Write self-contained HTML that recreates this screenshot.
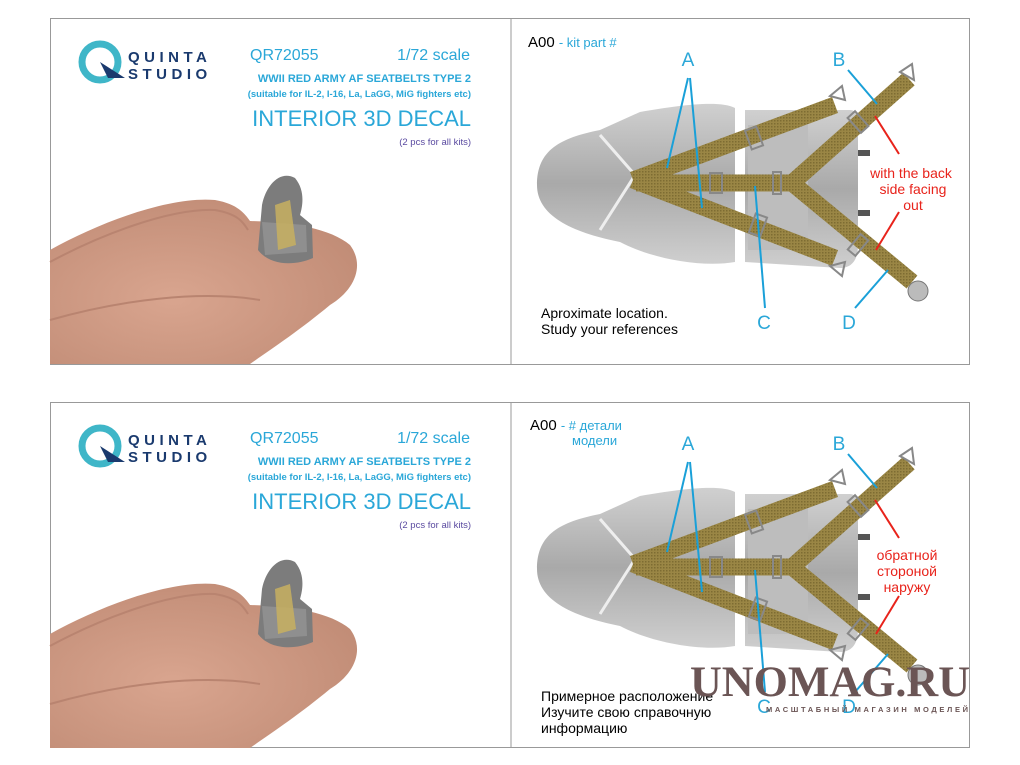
<!DOCTYPE html>
<html><head><meta charset="utf-8"><style>
html,body{margin:0;padding:0;background:#fff;width:1020px;height:765px;overflow:hidden}
svg{display:block}
text{font-family:"Liberation Sans",sans-serif}
</style></head><body>
<svg width="1020" height="765" viewBox="0 0 1020 765" xmlns="http://www.w3.org/2000/svg">
<defs>
<pattern id="wv" width="3" height="3" patternUnits="userSpaceOnUse"><rect width="3" height="3" fill="#9a8645"/><rect width="1.5" height="1.5" fill="#7d6c32"/></pattern>
<radialGradient id="sk" cx="0.4" cy="0.6" r="0.7"><stop offset="0" stop-color="#d9a58f"/><stop offset="1" stop-color="#c08b75"/></radialGradient>
<linearGradient id="st" x1="0" y1="0" x2="0" y2="1"><stop offset="0" stop-color="#d0d0d0"/><stop offset="0.5" stop-color="#a9a9a9"/><stop offset="1" stop-color="#cfcfcf"/></linearGradient>
<g id="hand">
 <path d="M50,250 C100,222 170,196 215,200 C238,204 245,214 250,221 C290,222 330,228 350,245 C365,265 355,290 330,305 C300,330 270,350 250,364 L50,364 Z" fill="url(#sk)"/>
 <path d="M50,262 C100,235 170,208 215,210 C238,214 243,222 248,230" stroke="#b98470" stroke-width="2" fill="none"/>
 <path d="M50,320 C120,300 200,290 260,300" stroke="#b98470" stroke-width="2" fill="none"/>
 <path d="M258,250 L262,205 C266,185 280,170 295,178 C305,190 303,205 300,215 L312,225 L313,258 C295,266 270,266 258,250 Z" fill="#7c7c7c"/>
 <path d="M262,222 L306,225 L307,252 L265,255 Z" fill="#8f8f8f"/>
 <path d="M275,205 L290,200 L296,245 L278,250 Z" fill="#c8b060" opacity="0.85"/>
</g>
<g id="seat">
 <path d="M537,185 C537,150 560,138 600,130 L640,112 C680,105 720,100 735,108 L735,262 C700,268 650,258 620,242 C570,232 537,215 537,185 Z" fill="url(#st)"/>
 <path d="M745,110 L850,110 C858,110 858,120 858,130 L858,245 C858,262 850,268 840,268 L745,262 Z" fill="url(#st)"/>
 <rect x="748" y="125" width="60" height="125" fill="#bdbdbd"/>
 <rect x="858" y="150" width="12" height="6" fill="#555"/><rect x="858" y="210" width="12" height="6" fill="#555"/>
 <path d="M600,135 L635,175 L600,230" stroke="#eee" stroke-width="3" fill="none"/>
 <g stroke="url(#wv)" stroke-width="17" stroke-linecap="butt" fill="none">
  <line x1="633" y1="180" x2="835" y2="105"/>
  <line x1="633" y1="180" x2="835" y2="258"/>
  <line x1="636" y1="183" x2="800" y2="183"/>
  <line x1="792" y1="183" x2="909" y2="79"/>
  <line x1="792" y1="183" x2="912" y2="282"/>
 </g>
 <g stroke="#888" stroke-width="2" fill="none">
  <rect x="710" y="173" width="12" height="20"/><rect x="773" y="172" width="8" height="22"/>
  <rect x="748" y="128" width="12" height="20" transform="rotate(-20 754 138)"/>
  <rect x="752" y="215" width="12" height="20" transform="rotate(20 758 225)"/>
  <rect x="853" y="112" width="10" height="20" transform="rotate(-42 858 122)"/>
  <rect x="853" y="235" width="10" height="20" transform="rotate(40 858 245)"/>
  <path d="M830,96 L842,86 L845,100 Z"/><path d="M830,266 L842,276 L845,262 Z"/><path d="M900,72 L912,64 L914,80 Z"/>
 </g>
 <circle cx="918" cy="291" r="10" fill="#bbb" stroke="#777"/>
</g>
<g id="logo">
 <circle cx="100" cy="62" r="18" fill="none" stroke="#3fb6c8" stroke-width="7"/>
 <path d="M100,62 L125,78 L108,78 Z" fill="#1a3a6e"/>
</g>
<g id="lines">
<g stroke="#1aa0d8" stroke-width="2"><line x1="688" y1="78" x2="667" y2="168"/><line x1="690" y1="78" x2="702" y2="208"/><line x1="848" y1="70" x2="877" y2="104"/><line x1="765" y1="308" x2="755" y2="186"/><line x1="855" y1="308" x2="888" y2="270"/></g>
<g stroke="#e8231b" stroke-width="2"><line x1="875" y1="116" x2="899" y2="154"/><line x1="899" y1="212" x2="876" y2="250"/></g>
</g>
</defs>

<!-- top panel -->
<rect x="50.5" y="18.5" width="919" height="346" fill="#fff" stroke="#999"/>
<use href="#hand"/><use href="#seat"/><use href="#logo"/><use href="#lines"/>
<line x1="511" y1="18" x2="511" y2="364" stroke="#999"/>
<text x="128" y="62" font-size="15" font-weight="bold" fill="#1a3a6e" letter-spacing="4.5">QUINTA</text>
<text x="128" y="79" font-size="15" font-weight="bold" fill="#1a3a6e" letter-spacing="4.5">STUDIO</text>
<text x="250" y="60" font-size="16" fill="#2aa7d8">QR72055</text>
<text x="470" y="60" font-size="16" fill="#2aa7d8" text-anchor="end">1/72 scale</text>
<text x="471" y="82" font-size="11" font-weight="bold" fill="#2aa7d8" text-anchor="end">WWII RED ARMY AF SEATBELTS TYPE 2</text>
<text x="471" y="97" font-size="9.5" font-weight="bold" fill="#2aa7d8" text-anchor="end">(suitable for IL-2, I-16, La, LaGG, MiG fighters etc)</text>
<text x="471" y="126" font-size="22" fill="#2aa7d8" text-anchor="end">INTERIOR 3D DECAL</text>
<text x="471" y="145" font-size="9.5" fill="#5a4aa0" text-anchor="end">(2 pcs for all kits)</text>
<text x="528" y="47" font-size="15">A00 <tspan fill="#2aa7d8" font-size="13">- kit part #</tspan></text>
<g font-size="19" fill="#2aa7d8" text-anchor="middle"><text x="688" y="66">A</text><text x="839" y="66">B</text><text x="764" y="329">C</text><text x="849" y="329">D</text></g>
<g font-size="14" fill="#e8231b" text-anchor="middle"><text x="911" y="178">with the back</text><text x="913" y="194">side facing</text><text x="913" y="210">out</text></g>
<text x="541" y="318" font-size="14">Aproximate location.</text>
<text x="541" y="334" font-size="14">Study your references</text>

<!-- bottom panel -->
<rect x="50.5" y="402.5" width="919" height="345" fill="#fff" stroke="#999"/>
<g transform="translate(0,384)"><use href="#hand"/><use href="#seat"/><use href="#logo"/><use href="#lines"/></g>
<line x1="511" y1="402" x2="511" y2="747" stroke="#999"/>
<text x="128" y="445" font-size="15" font-weight="bold" fill="#1a3a6e" letter-spacing="4.5">QUINTA</text>
<text x="128" y="462" font-size="15" font-weight="bold" fill="#1a3a6e" letter-spacing="4.5">STUDIO</text>
<text x="250" y="443" font-size="16" fill="#2aa7d8">QR72055</text>
<text x="470" y="443" font-size="16" fill="#2aa7d8" text-anchor="end">1/72 scale</text>
<text x="471" y="465" font-size="11" font-weight="bold" fill="#2aa7d8" text-anchor="end">WWII RED ARMY AF SEATBELTS TYPE 2</text>
<text x="471" y="480" font-size="9.5" font-weight="bold" fill="#2aa7d8" text-anchor="end">(suitable for IL-2, I-16, La, LaGG, MiG fighters etc)</text>
<text x="471" y="509" font-size="22" fill="#2aa7d8" text-anchor="end">INTERIOR 3D DECAL</text>
<text x="471" y="528" font-size="9.5" fill="#5a4aa0" text-anchor="end">(2 pcs for all kits)</text>
<text x="530" y="430" font-size="15">A00 <tspan fill="#2aa7d8" font-size="13">- # детали</tspan></text>
<text x="572" y="445" font-size="13" fill="#2aa7d8">модели</text>
<g font-size="19" fill="#2aa7d8" text-anchor="middle"><text x="688" y="450">A</text><text x="839" y="450">B</text><text x="764" y="713">C</text><text x="849" y="713">D</text></g>
<g font-size="14" fill="#e8231b" text-anchor="middle"><text x="907" y="560">обратной</text><text x="907" y="576">стороной</text><text x="907" y="592">наружу</text></g>
<text x="541" y="701" font-size="14">Примерное расположение</text>
<text x="541" y="717" font-size="14">Изучите свою справочную</text>
<text x="541" y="733" font-size="14">информацию</text>
<text x="690" y="696" font-size="43" font-weight="bold" fill="#6b5555" textLength="280" lengthAdjust="spacingAndGlyphs" style="font-family:'Liberation Serif',serif">UNOMAG.RU</text>
<text x="766" y="712" font-size="7.5" font-weight="bold" fill="#6b5555" textLength="202" lengthAdjust="spacing">МАСШТАБНЫЙ МАГАЗИН МОДЕЛЕЙ</text>
</svg>
</body></html>
